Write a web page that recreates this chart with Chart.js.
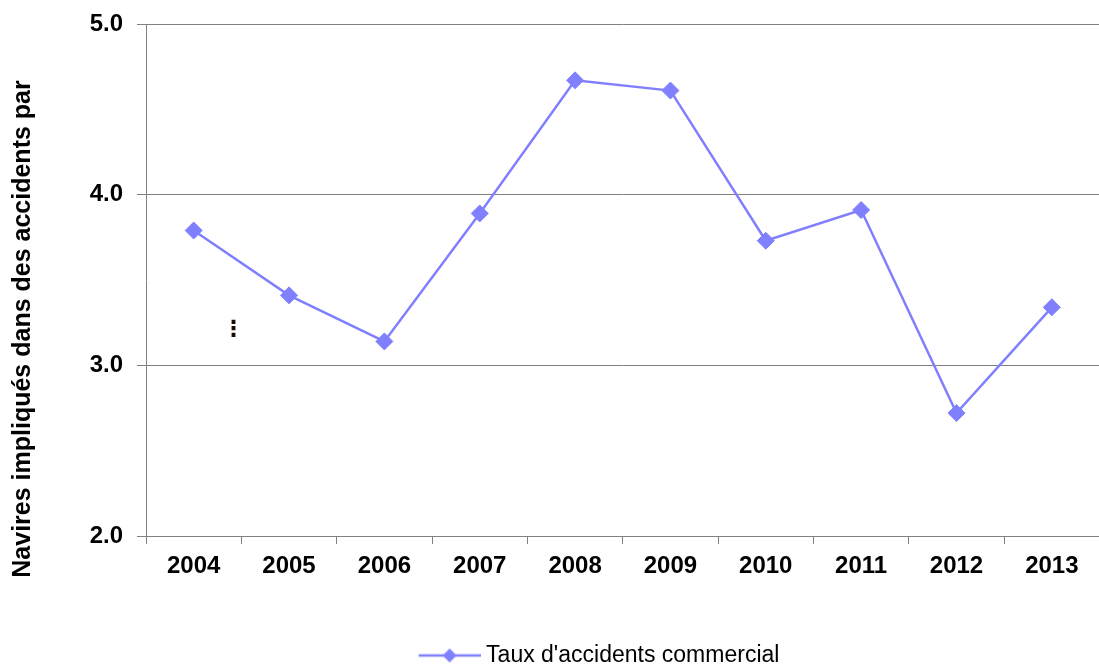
<!DOCTYPE html>
<html>
<head>
<meta charset="utf-8">
<script src="https://cdn.jsdelivr.net/npm/chart.js@4/dist/chart.umd.min.js"></script>
<style>
    html, body { margin: 0; padding: 0; overflow: hidden; background: #fff; }
    #wrap { position: absolute; left: 0; top: 0; width: 1109px; height: 677px; }
</style>
</head>
<body>
<div id="wrap"><canvas id="chart" width="1109" height="677"></canvas></div>
<script>
// Values
const years = ['2004', '2005', '2006', '2007', '2008', '2009', '2010', '2011', '2012', '2013'];
const accidentRate = [3.79, 3.41, 3.14, 3.89, 4.67, 4.61, 3.73, 3.91, 2.72, 3.34];
const yTicks = [2.0, 3.0, 4.0, 5.0];
const seriesLabel = "Taux d'accidents commercial";
const yTitle = 'Navires impliqués dans des accidents par';

const FONT = '"Liberation Sans", Arial, sans-serif';
const LINE_COLOR = '#8080ff';
const GRID_COLOR = '#808080';

// legend symbol: line with a diamond in the middle (6px blank on the left)
function legendSymbol() {
    const c = document.createElement('canvas');
    c.width = 68;
    c.height = 18;
    const g = c.getContext('2d');
    g.strokeStyle = LINE_COLOR;
    g.lineWidth = 2.5;
    g.beginPath();
    g.moveTo(6, 9);
    g.lineTo(68, 9);
    g.stroke();
    g.fillStyle = LINE_COLOR;
    g.beginPath();
    g.moveTo(37 - 7, 9);
    g.lineTo(37, 2);
    g.lineTo(37 + 7, 9);
    g.lineTo(37, 16);
    g.closePath();
    g.fill();
    return c;
}

// y title is drawn by hand so it can sit a bit lower than the axis centre
const extras = {
    id: 'extras',
    afterDraw(chart) {
        const ctx = chart.ctx;
        const area = chart.chartArea;
        ctx.save();
        ctx.fillStyle = '#000';
        ctx.font = 'bold 25px ' + FONT;
        ctx.textAlign = 'center';
        ctx.textBaseline = 'middle';
        ctx.translate(23.5, (area.top + area.bottom) / 2 + 49);
        ctx.rotate(-Math.PI / 2);
        ctx.fillText(yTitle, 0, 0);
        ctx.restore();

        // stray vertical ellipsis left in the original picture
        ctx.save();
        ctx.fillStyle = '#1a0d00';
        ctx.font = 'bold 22px "DejaVu Sans"';
        ctx.textAlign = 'center';
        ctx.textBaseline = 'middle';
        ctx.fillText('\u22EE', 233.5, 330);
        ctx.restore();
    }
};

const ctx = document.getElementById('chart').getContext('2d');
new Chart(ctx, {
    type: 'line',
    data: {
        labels: years,
        datasets: [{
            label: seriesLabel,
            data: accidentRate,
            borderColor: LINE_COLOR,
            backgroundColor: LINE_COLOR,
            borderWidth: 2.5,
            pointStyle: 'rectRot',
            pointRadius: 8.5,
            pointHoverRadius: 8.5,
            pointBorderWidth: 1,
            tension: 0,
            fill: false
        }]
    },
    options: {
        responsive: false,
        animation: false,
        layout: { padding: { left: 89, right: 0, top: 24, bottom: 0 } },
        scales: {
            x: {
                offset: true,
                grid: {
                    offset: true,
                    drawOnChartArea: false,
                    color: GRID_COLOR,
                    tickLength: 8
                },
                border: { color: GRID_COLOR, width: 1 },
                ticks: {
                    color: '#000',
                    padding: 8,
                    font: { family: FONT, size: 24, weight: 'bold' },
                    maxRotation: 0,
                    autoSkip: false
                },
                afterFit(scale) { scale.height = 103; }
            },
            y: {
                min: 2,
                max: 5,
                afterBuildTicks(scale) {
                    scale.ticks = yTicks.map(v => ({ value: v }));
                },
                grid: {
                    color: GRID_COLOR,
                    tickLength: 9
                },
                border: { color: GRID_COLOR, width: 1 },
                ticks: {
                    color: '#000',
                    padding: 14,
                    font: { family: FONT, size: 24, weight: 'bold', lineHeight: 0.8 },
                    callback: v => Number(v).toFixed(1)
                },
                afterFit(scale) { scale.width = 57; }
            }
        },
        plugins: {
            legend: {
                position: 'bottom',
                labels: {
                    color: '#000',
                    font: { family: FONT, size: 23 },
                    usePointStyle: true,
                    pointStyleWidth: 56,
                    padding: 5,
                    generateLabels(chart) {
                        return chart.data.datasets.map((ds, i) => ({
                            text: ds.label,
                            pointStyle: legendSymbol(),
                            fillStyle: LINE_COLOR,
                            strokeStyle: LINE_COLOR,
                            lineWidth: 0,
                            hidden: false,
                            datasetIndex: i,
                            fontColor: '#000'
                        }));
                    }
                }
            },
            tooltip: { enabled: false }
        }
    },
    plugins: [extras]
});
</script>
</body>
</html>
